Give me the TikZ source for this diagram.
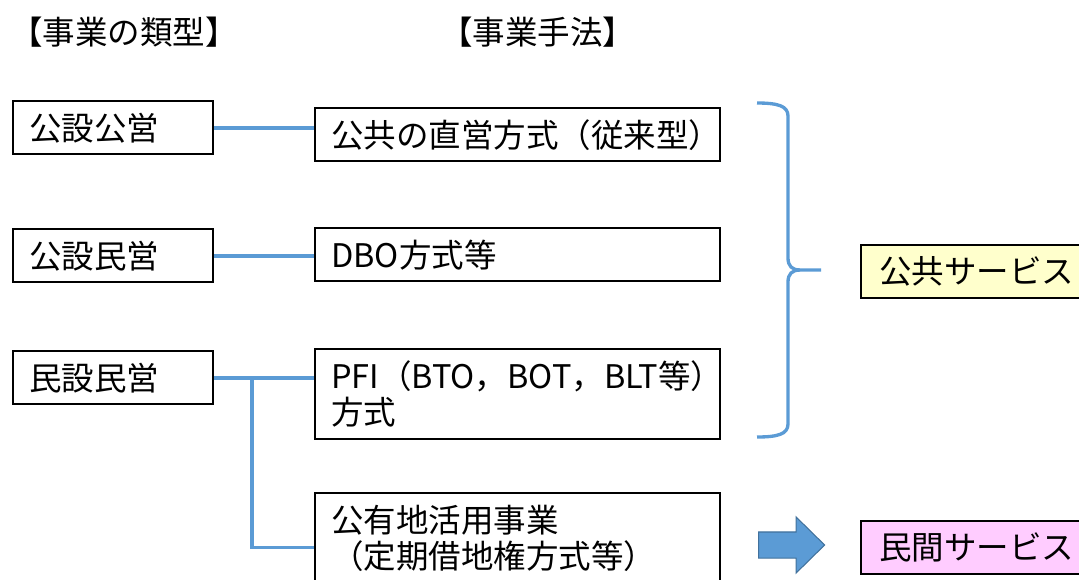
\documentclass[tikz,border=0pt]{standalone}
\usepackage{fontspec}
\setmainfont{Noto Sans CJK JP}
\usetikzlibrary{shapes,arrows,positioning,calc}

\definecolor{linkblue}{HTML}{5B9BD5}
\definecolor{arrowedge}{HTML}{41719C}
\definecolor{svcyellow}{HTML}{FFFFCC}
\definecolor{svcpink}{HTML}{FFCCFF}

\begin{document}
\begin{tikzpicture}[
    x=0.02cm, y=-0.02cm,
    font=\fontsize{18.5}{20.5}\selectfont,
    heading/.style={anchor=west, inner sep=0pt},
    type/.style={rectangle, draw, line width=1.4pt, anchor=north west, minimum height=1.06cm, text width=3.36cm, inner xsep=0.32cm, align=left},
    method/.style={rectangle, draw, line width=1.4pt, anchor=north west, minimum height=1.06cm, text width=7.46cm, inner xsep=0.32cm, align=left},
    service/.style={rectangle, draw, line width=1.4pt, anchor=north west, minimum height=1.06cm, text width=6cm, inner xsep=0.36cm, align=left},
    link/.style={draw=linkblue, line width=2.2pt},
    bundle/.style={draw=linkblue, line width=1.9pt, line join=round},
    flowarrow/.style={single arrow, draw=arrowedge, fill=linkblue, line width=0.6pt, inner xsep=0pt, inner ysep=0.25cm, minimum height=1.32cm, single arrow head extend=0.3cm, single arrow head indent=0pt, single arrow tip angle=89}
]
    \useasboundingbox (0,0) rectangle (1079,579);
    \clip (0,0) rectangle (1079,579);

    % 見出し
    \node[heading] (typehead) at (10,32) {【事業の類型】};
    \node[heading] (methodhead) at (440,32) {【事業手法】};

    % 事業の類型
    \node[type] (kk) at (12,100) {公設公営};
    \node[type] (km) at (12,228) {公設民営};
    \node[type] (mm) at (12,350) {民設民営};

    % 事業手法
    \node[method] (direct) at (314,107) {公共の直営方式（従来型）};
    \node[method] (dbo) at (314,227) {DBO方式等};
    \node[method, minimum height=1.8cm] (pfi) at (314,348) {PFI（BTO，BOT，BLT等）\\方式};
    \node[method, minimum height=1.8cm] (land) at (314,492) {公有地活用事業\\（定期借地権方式等）};

    % サービス
    \node[service, fill=svcyellow] (public) at (860,244) {公共サービス};
    \node[service, fill=svcpink] (private) at (860,520) {民間サービス};

    % 接続線
    \draw[link] (kk.east) -- (kk.east -| direct.west);
    \draw[link] (km.east) -- (km.east -| dbo.west);
    \draw[link] (mm.east) -- (mm.east -| pfi.west);
    \coordinate (fork) at ($(mm.east)+(38,0)$);
    \coordinate (landin) at ($(land.north west)!0.6!(land.south west)$);
    \draw[link] (fork) |- (landin);

    % 括弧
    \coordinate (bracetop) at (757,103);
    \coordinate (bracebot) at (757,437);
    \coordinate (bracetip) at (821,270);
    \draw[bundle] (bracetop) .. controls (778,103) and (788,106) .. (788,116) -- (788,258)
        .. controls (788,266) and (792,270) .. (800,270) -- (bracetip);
    \draw[bundle] (800,270) .. controls (792,270) and (788,274) .. (788,282) -- (788,424)
        .. controls (788,434) and (778,437) .. (bracebot);

    % 矢印
    \node[flowarrow] (flow) at (785,545) {};
\end{tikzpicture}
\end{document}
